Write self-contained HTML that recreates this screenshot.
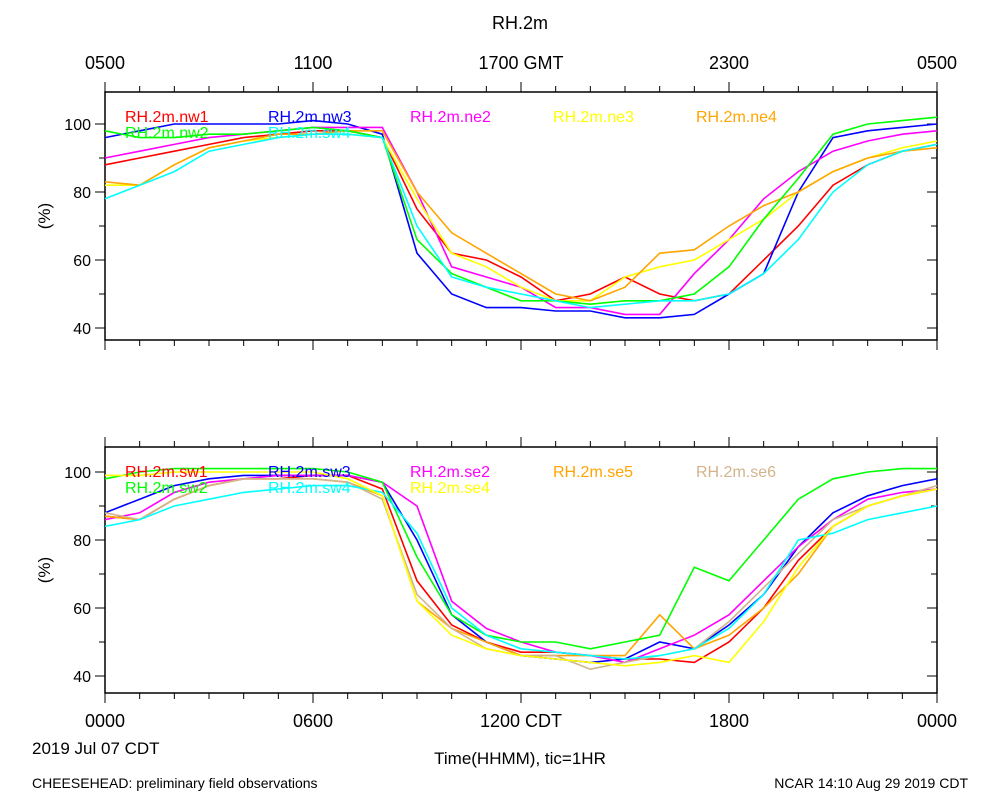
<!DOCTYPE html>
<html><head><meta charset="utf-8"><style>
body{margin:0;background:#fff;}
svg{display:block;font-family:"Liberation Sans",sans-serif;}
</style></head><body>
<svg id="c" width="1000" height="800">
<text x="520" y="29" font-size="18" text-anchor="middle">RH.2m</text>
<text x="32" y="754" font-size="17">2019 Jul 07 CDT</text>
<text x="520" y="764" font-size="17" text-anchor="middle">Time(HHMM), tic=1HR</text>
<text x="32" y="788" font-size="14">CHEESEHEAD: preliminary field observations</text>
<text x="968" y="788" font-size="14" text-anchor="end">NCAR 14:10 Aug 29 2019 CDT</text>
</svg>
<script>
const hours = [0,1,2,3,4,5,6,7,8,9,10,11,12,13,14,15,16,17,18,19,20,21,22,23,24];
const topTickLabels = ["0500","1100","1700 GMT","2300","0500"];
const bottomTickLabels = ["0000","0600","1200 CDT","1800","0000"];
const yTicks = [40,60,80,100];
const nw1 = [88,90,92,94,96,97,98,98,96,75,62,60,55,48,50,55,50,48,50,60,70,82,88,92,94];
const nw3 = [96,98,100,100,100,100,101,100,97,62,50,46,46,45,45,43,43,44,50,56,80,96,98,99,100];
const ne2 = [90,92,94,96,97,98,99,99,99,80,58,55,52,46,46,44,44,56,66,78,86,92,95,97,98];
const ne3 = [82,82,88,93,95,96,97,97,96,78,62,58,52,48,48,55,58,60,66,72,80,86,90,93,95];
const ne4 = [83,82,88,93,95,97,97,98,98,80,68,62,56,50,48,52,62,63,70,76,80,86,90,92,93];
const nw2 = [98,96,96,97,97,98,99,98,96,66,56,52,48,48,47,48,48,50,58,72,84,97,100,101,102];
const tsw4 = [78,82,86,92,94,96,97,97,96,70,55,52,50,48,46,47,48,48,50,56,66,80,88,92,94];
const sw1 = [87,86,92,96,98,98,99,99,95,68,55,50,47,47,46,45,45,44,50,60,74,84,90,93,95];
const sw3 = [88,92,96,98,99,99,99,99,97,80,58,50,46,45,44,45,50,48,55,64,78,88,93,96,98];
const se2 = [86,88,94,97,98,99,99,99,97,90,62,54,50,47,46,44,48,52,58,68,78,86,92,94,95];
const se5 = [87,86,92,96,98,98,98,97,93,62,54,50,46,46,46,46,58,48,52,60,70,84,90,93,95];
const se6 = [88,86,92,96,98,98,98,97,92,64,54,48,46,46,42,44,46,48,56,66,76,86,90,93,96];
const sw2 = [98,100,101,101,101,101,101,100,97,75,58,52,50,50,48,50,52,72,68,80,92,98,100,101,101];
const sw4 = [84,86,90,92,94,95,96,96,94,82,60,52,48,47,46,45,46,48,54,64,80,82,86,88,90];
const se4 = [99,99,100,100,100,100,100,98,93,62,52,48,46,45,44,43,44,46,44,56,72,84,90,93,95];

const NS="http://www.w3.org/2000/svg";
const svg=document.getElementById('c');
function mk(t,a,p){const e=document.createElementNS(NS,t);for(const k in a)e.setAttribute(k,a[k]);(p||svg).appendChild(e);return e;}
const X0=105,X1=937;
const xs=h=>X0+(X1-X0)*h/24;

function panel(top,bot,y40,series,rows,tickLabs,labY,topLabs,name){
  const g=mk('g',{});
  
  
  const ys=v=>y40-(v-40)*3.4;
  const box=mk('rect',{x:X0,y:top,width:X1-X0,height:bot-top,fill:'none',stroke:'#000','stroke-width':1.5},g);
  
  
  for(let h=0;h<=24;h++){
    const x=xs(h),L=h%6==0?10:6;
    mk('line',{x1:x,x2:x,y1:bot,y2:bot+L,stroke:'#000'},g);
    mk('line',{x1:x,x2:x,y1:top,y2:top-L,stroke:'#000'},g);
  }
  for(let v=40;v<=100;v+=10){
    const y=ys(v),L=v%20==0?10:6;
    mk('line',{x1:X0,x2:X0-L,y1:y,y2:y,stroke:'#000'},g);
    mk('line',{x1:X1,x2:X1-L,y1:y,y2:y,stroke:'#000'},g);
  }
  yTicks.forEach(v=>{const t=mk('text',{x:X0-14,y:ys(v)+6,'font-size':16,'text-anchor':'end'},g);t.textContent=v;
    
    });
  const yl=mk('text',{x:50,y:(top+bot)/2,'font-size':17,'text-anchor':'middle',transform:`rotate(-90 50 ${(top+bot)/2})`},g);
  yl.textContent='(%)';
  
  
  tickLabs.forEach((s,i)=>{const t=mk('text',{x:xs(i*6),y:labY,'font-size':18,'text-anchor':'middle'},g);t.textContent=s;
    
    });
  if(topLabs)topLabs.forEach((s,i)=>{const t=mk('text',{x:xs(i*6),y:69,'font-size':18,'text-anchor':'middle'},g);t.textContent=s;
    
    });
  series.forEach(s=>{
    const d=s.v.map((v,i)=>(i?'L':'M')+xs(hours[i]).toFixed(1)+','+ys(v).toFixed(1)).join('');
    const p=mk('path',{d:d,fill:'none',stroke:s.c,'stroke-width':1.6},g);
    
    
  });
  series.forEach(s=>{
    const t=mk('text',{x:s.lx,y:top+rows[s.r],'font-size':16,fill:s.c},g);t.textContent=s.n;
    
    
  });
}
const topSeries=[
 {n:'RH.2m.nw1',v:nw1,c:'#ff0000',lx:125,r:0},
 {n:'RH.2m.nw3',v:nw3,c:'#0000ff',lx:268,r:0},
 {n:'RH.2m.ne2',v:ne2,c:'#ff00ff',lx:410,r:0},
 {n:'RH.2m.ne3',v:ne3,c:'#ffff00',lx:553,r:0},
 {n:'RH.2m.ne4',v:ne4,c:'#ffa500',lx:696,r:0},
 {n:'RH.2m.nw2',v:nw2,c:'#00ff00',lx:125,r:1},
 {n:'RH.2m.sw4',v:tsw4,c:'#00ffff',lx:268,r:1}];
const botSeries=[
 {n:'RH.2m.sw1',v:sw1,c:'#ff0000',lx:125,r:0},
 {n:'RH.2m.sw3',v:sw3,c:'#0000ff',lx:268,r:0},
 {n:'RH.2m.se2',v:se2,c:'#ff00ff',lx:410,r:0},
 {n:'RH.2m.se5',v:se5,c:'#ffa500',lx:553,r:0},
 {n:'RH.2m.se6',v:se6,c:'#d2b48c',lx:696,r:0},
 {n:'RH.2m.sw2',v:sw2,c:'#00ff00',lx:125,r:1},
 {n:'RH.2m.sw4',v:sw4,c:'#00ffff',lx:268,r:1},
 {n:'RH.2m.se4',v:se4,c:'#ffff00',lx:410,r:1}];
panel(92,340,328,topSeries,[30,46],[],0,topTickLabels,'top-panel');
panel(447,693,676,botSeries,[30,46],bottomTickLabels,727,null,'bottom-panel');
</script>
</body></html>
